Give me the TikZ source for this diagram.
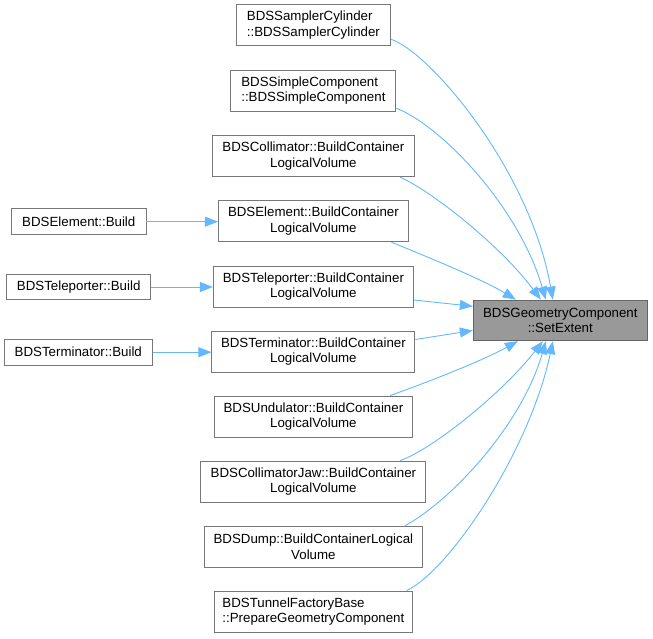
\documentclass[tikz,border=0pt]{standalone}
\usepackage{fontspec}
\setmainfont{Liberation Sans}
\usetikzlibrary{arrows.meta}
\definecolor{edgeblue}{HTML}{63B8FF}
\definecolor{boxborder}{HTML}{777777}
\definecolor{tgtfill}{HTML}{999999}
\definecolor{tgtborder}{HTML}{666666}
\begin{document}
\begin{tikzpicture}[x=1pt,y=-1pt,
  box/.style={draw=boxborder,line width=0.9pt,fill=white,align=center,inner sep=0pt,
    font=\fontsize{13.3}{15.5}\selectfont},
  twoline/.style={box,minimum height=41pt},
  leftlines/.style={twoline,align=left},
  oneline/.style={box,minimum height=25.5pt},
  target/.style={box,draw=tgtborder,fill=tgtfill,minimum height=40.7pt,minimum width=174pt},
  edge/.style={draw=edgeblue,line width=0.9pt,-{Triangle[length=13pt,width=10pt,fill=edgeblue]}}]
\useasboundingbox (0,0) rectangle (653,639);

\node[leftlines,minimum width=154pt] (sc) at (313.4,25.2) {BDSSamplerCylinder\\::BDSSamplerCylinder};
\node[leftlines,minimum width=165pt] (simp) at (313.4,90.7) {BDSSimpleComponent\\::BDSSimpleComponent};
\node[twoline,minimum width=202pt] (coll) at (313.4,156.2) {BDSCollimator::BuildContainer\\LogicalVolume};
\node[twoline,minimum width=190pt] (elem) at (313.4,221.2) {BDSElement::BuildContainer\\LogicalVolume};
\node[twoline,minimum width=200pt] (tele) at (313.4,286.5) {BDSTeleporter::BuildContainer\\LogicalVolume};
\node[twoline,minimum width=203pt] (term) at (313.4,351.5) {BDSTerminator::BuildContainer\\LogicalVolume};
\node[twoline,minimum width=198pt] (und) at (313.4,416.5) {BDSUndulator::BuildContainer\\LogicalVolume};
\node[twoline,minimum width=225pt] (jaw) at (313.4,481.5) {BDSCollimatorJaw::BuildContainer\\LogicalVolume};
\node[twoline,minimum width=218pt] (dump) at (313.4,546.5) {BDSDump::BuildContainerLogical\\Volume};
\node[leftlines,minimum width=198pt] (tunnel) at (313.4,611.5) {BDSTunnelFactoryBase\\::PrepareGeometryComponent};

\node[oneline,minimum width=134.3pt] (elembuild) at (78.8,221.7) {BDSElement::Build};
\node[oneline,minimum width=144pt] (telebuild) at (78.7,287) {BDSTeleporter::Build};
\node[oneline,minimum width=148.7pt] (termbuild) at (78.3,352.2) {BDSTerminator::Build};

\node[target] (tgt) at (560.3,320.4) {BDSGeometryComponent\\::SetExtent};

\draw[edge] (elembuild.east) -- (elem.west |- elembuild.east);
\draw[edge] (telebuild.east) -- (tele.west |- telebuild.east);
\draw[edge] (termbuild.east) -- (term.west |- termbuild.east);

\draw[edge] ([shift={(0,14)}]sc.east) .. controls (430,52) and (530,170) .. ([shift={(80,0)}]tgt.north west);
\draw[edge] ([shift={(0,17.6)}]simp.east) .. controls (440,125) and (518,205) .. ([shift={(73,0)}]tgt.north west);
\draw[edge] ([shift={(86.6,0)}]coll.south) .. controls (430,190) and (500,245) .. ([shift={(68,0)}]tgt.north west);
\draw[edge] ([shift={(78,0)}]elem.south) .. controls (420,254) and (480,278) .. ([shift={(43,0)}]tgt.north west);
\draw[edge] ([shift={(0,13.5)}]tele.east) -- ([shift={(0,6.7)}]tgt.north west);
\draw[edge] ([shift={(0,-12)}]term.east) -- ([shift={(0,-10.7)}]tgt.south west);
\draw[edge] ([shift={(76.6,0)}]und.north) .. controls (420,385) and (480,362) .. ([shift={(45,0)}]tgt.south west);
\draw[edge] ([shift={(86.6,0)}]jaw.north) .. controls (430,450.7) and (500,395.7) .. ([shift={(70,0)}]tgt.south west);
\draw[edge] ([shift={(91.6,0)}]dump.north) .. controls (445,505) and (520,430) .. ([shift={(73,0)}]tgt.south west);
\draw[edge] ([shift={(93.3,0)}]tunnel.north) .. controls (450,570) and (530,450) .. ([shift={(80,0)}]tgt.south west);
\end{tikzpicture}
\end{document}
